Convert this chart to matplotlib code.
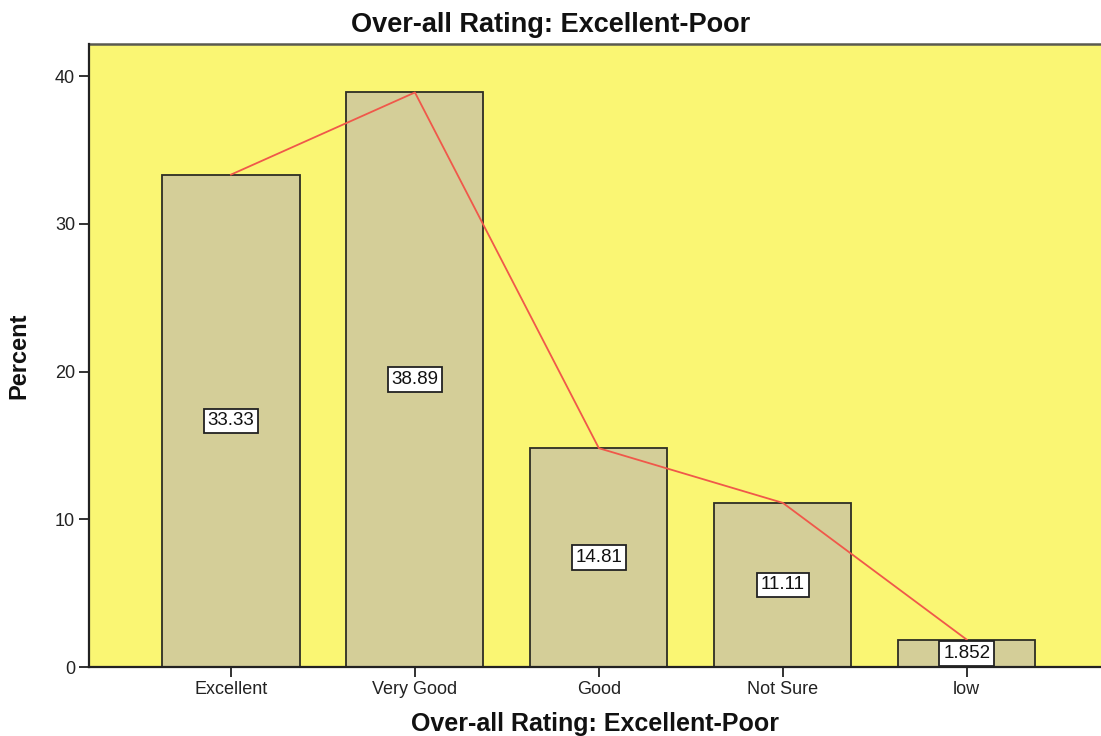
import matplotlib
matplotlib.use("Agg")
import matplotlib.pyplot as plt

categories = ["Excellent", "Very Good", "Good", "Not Sure", "low"]
percents = [33.33, 38.89, 14.81, 11.11, 1.852]
value_labels = ["33.33", "38.89", "14.81", "11.11", "1.852"]
yticks = [0, 10, 20, 30, 40]
title = "Over-all Rating: Excellent-Poor"

plt.rcParams['font.family'] = ['Liberation Sans', 'DejaVu Sans']

fig = plt.figure(figsize=(11.01, 7.36), dpi=100)
ax = fig.add_axes([89/1101, 69/736, 1 - 89/1101, (667-44)/736])
ax.set_facecolor('#FAF673')

x = list(range(len(categories)))
ax.bar(x, percents, width=0.745, color='#D4CE98', edgecolor='#2e2e24', linewidth=1.3, zorder=2)
ax.plot(x, percents, color='#F0584A', linewidth=1.3, zorder=3)
for xi, v, lab in zip(x, percents, value_labels):
    ax.text(xi, v/2, lab, ha='center', va='center', fontsize=13.5, color='#111111', zorder=4,
            bbox=dict(boxstyle='square,pad=0.2', facecolor='white', edgecolor='#222222', linewidth=1.3))

ax.set_xlim(-0.772, 4.73)
ax.set_ylim(0, 42.17)
ax.set_xticks(x)
ax.set_xticklabels(categories, fontsize=13, color='#222222')
ax.set_yticks(yticks)
ax.set_yticklabels([str(t) for t in yticks], fontsize=13, color='#222222')
ax.tick_params(axis='both', length=7, width=1.3, color='#222222', pad=3)
for side in ['top', 'right']:
    ax.spines[side].set_visible(False)
for side in ['left', 'bottom']:
    ax.spines[side].set_linewidth(1.6)
    ax.spines[side].set_color('#222222')
ax.plot([0, 1], [1, 1], transform=ax.transAxes, color='#5a5a50', linewidth=1.8, clip_on=False)

ax.set_xlabel(title, fontsize=18, fontweight='bold', color='#111111', labelpad=10)
ax.set_ylabel("Percent", fontsize=17, fontweight='bold', color='#111111', labelpad=18)
fig.text(0.5, 1 - 25/736, title, ha='center', va='center', fontsize=19.5, fontweight='bold', color='#111111')

fig.savefig("out.png", dpi=100)
